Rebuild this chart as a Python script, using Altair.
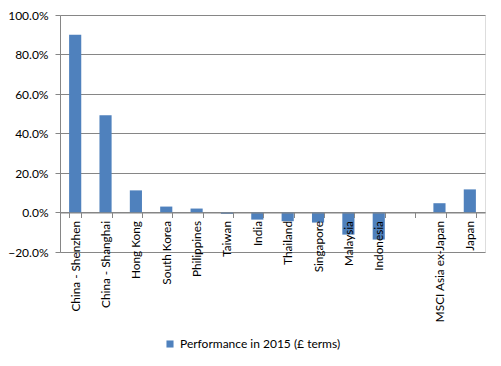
import altair as alt
import pandas as pd

categories = ["China - Shenzhen", "China - Shanghai", "Hong Kong", "South Korea",
              "Philippines", "Taiwan", "India", "Thailand", "Singapore", "Malaysia",
              "Indonesia", " ", "MSCI Asia ex-Japan", "Japan"]
values = [0.900, 0.492, 0.112, 0.030, 0.020, -0.007, -0.036, -0.044, -0.051, -0.112,
          -0.137, None, 0.047, 0.117]
series_name = "Performance in 2015 (£ terms)"

df = pd.DataFrame({"cat": categories, "val": values, "series": series_name})

FONT = "Lato"
W, H = 425, 237

bars = alt.Chart(df).mark_bar(color="#4F81BD").encode(
    x=alt.X("cat:N", sort=categories, title=None,
            scale=alt.Scale(paddingInner=0.6, paddingOuter=0.3),
            axis=alt.Axis(labelAngle=-90, tickBand="extent", tickSize=5,
                          labelPadding=3, offset=-H * 20 / 120, zindex=1,
                          domainColor="#868686", tickColor="#868686",
                          labelColor="#000000", labelFont=FONT, labelFontSize=11.8,
                          grid=False, labelLimit=200)),
    y=alt.Y("val:Q", title=None,
            scale=alt.Scale(domain=[-0.2, 1.0], nice=False),
            axis=alt.Axis(format=".1%", values=[-0.2, 0, 0.2, 0.4, 0.6, 0.8, 1.0],
                          tickSize=5, labelPadding=7, gridColor="#868686",
                          domainColor="#868686", tickColor="#868686",
                          labelColor="#000000", labelFont=FONT, labelFontSize=12)),
    color=alt.Color("series:N", scale=alt.Scale(range=["#4F81BD"]),
                    legend=alt.Legend(title=None, orient="none", legendX=104, legendY=323,
                                      symbolType="square", symbolSize=50,
                                      symbolStrokeWidth=0,
                                      labelFont=FONT, labelFontSize=12,
                                      labelColor="#000000", labelLimit=300)),
)

chart = bars.properties(
    width=W, height=H,
    autosize=alt.AutoSizeParams(type="none"),
    padding={"left": 52, "top": 7, "right": 8, "bottom": 106},
).configure_view(stroke=None).configure(background="white")

chart.save("out.html", embed_options={"renderer": "svg", "actions": False})
